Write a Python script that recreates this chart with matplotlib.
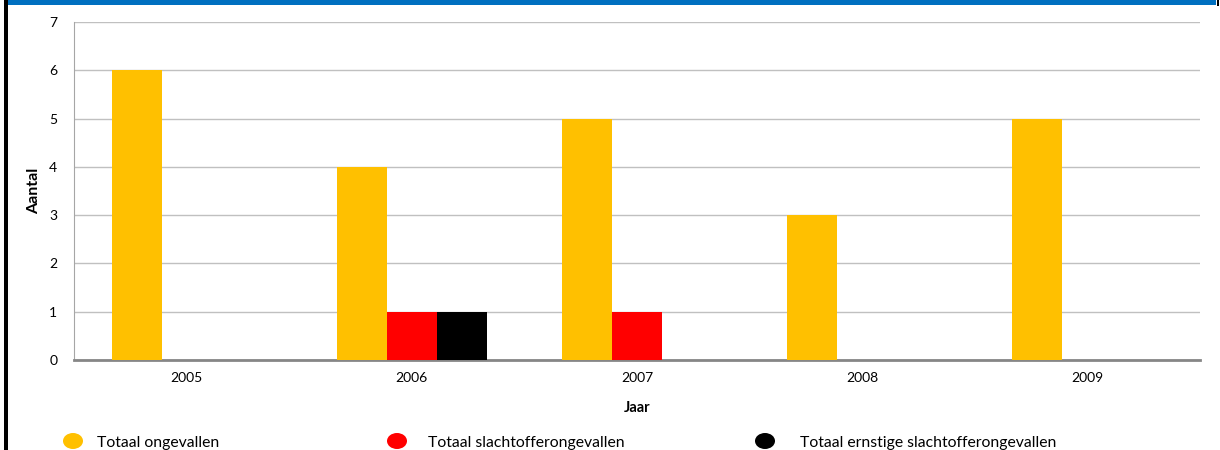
import numpy as np
import matplotlib
matplotlib.use("Agg")
import matplotlib.pyplot as plt
from matplotlib.patches import Ellipse, Rectangle

plt.rcParams['font.family'] = ['Lato', 'DejaVu Sans']

years = ["2005", "2006", "2007", "2008", "2009"]
series_names = ["Totaal ongevallen", "Totaal slachtofferongevallen",
                "Totaal ernstige slachtofferongevallen"]
ongevallen = [6, 4, 5, 3, 5]
slachtoffer = [0, 1, 1, 0, 0]
ernstig = [0, 1, 0, 0, 0]
colors = ["#FFC000", "#FF0000", "#000000"]

W, H = 1220, 450
fig = plt.figure(figsize=(W / 100, H / 100), dpi=100)
ax = fig.add_axes([74 / W, 1 - 360 / H, (1200 - 74) / W, (360 - 22) / H])

x = np.arange(len(years))
bw = 0.222
for i, (vals, c) in enumerate(zip([ongevallen, slachtoffer, ernstig], colors)):
    ax.bar(x + (i - 1) * bw, vals, bw, color=c, zorder=3)

ax.set_xlim(-0.5, len(years) - 0.5)
ax.set_ylim(0, 7)
ax.set_yticks(range(8))
ax.set_xticks(x)
ax.set_xticklabels(years)
ax.tick_params(length=0, labelsize=10, colors="#000000")
ax.tick_params(axis="y", pad=12)
ax.tick_params(axis="x", pad=9)
ax.grid(axis="y", color="#C0C0C0", lw=1, zorder=0)
for s in ["top", "right"]:
    ax.spines[s].set_visible(False)
ax.spines["left"].set_color("#A6A6A6")
ax.spines["bottom"].set_color("#868686")
ax.spines["bottom"].set_linewidth(2)

ax.set_xlabel("Jaar", fontsize=10.5, fontweight="bold", labelpad=12)
ax.set_ylabel("Aantal", fontsize=11.5, fontweight="bold", labelpad=6)

# header band and frame edges
fig.add_artist(Rectangle((8 / W, 1 - 5 / H), (1216 - 8) / W, 5 / H,
                         transform=fig.transFigure, color="#0070C0", lw=0))
fig.add_artist(Rectangle((4 / W, 0), 4 / W, 1,
                         transform=fig.transFigure, color="#000000", lw=0))
fig.add_artist(Rectangle((1217 / W, 1 - 6 / H), 2 / W, 6 / H,
                         transform=fig.transFigure, color="#000000", lw=0))

# legend row
legend_x = [73, 397, 765]
text_x = [97, 428, 800]
for mx, tx, c, name in zip(legend_x, text_x, colors, series_names):
    fig.add_artist(Ellipse((mx / W, 1 - 441 / H), 20 / W, 16 / H,
                           transform=fig.transFigure, color=c, lw=0))
    fig.text(tx / W, 1 - 443 / H, name, fontsize=11.3, va="center", ha="left")

fig.savefig("out.png", dpi=100)
